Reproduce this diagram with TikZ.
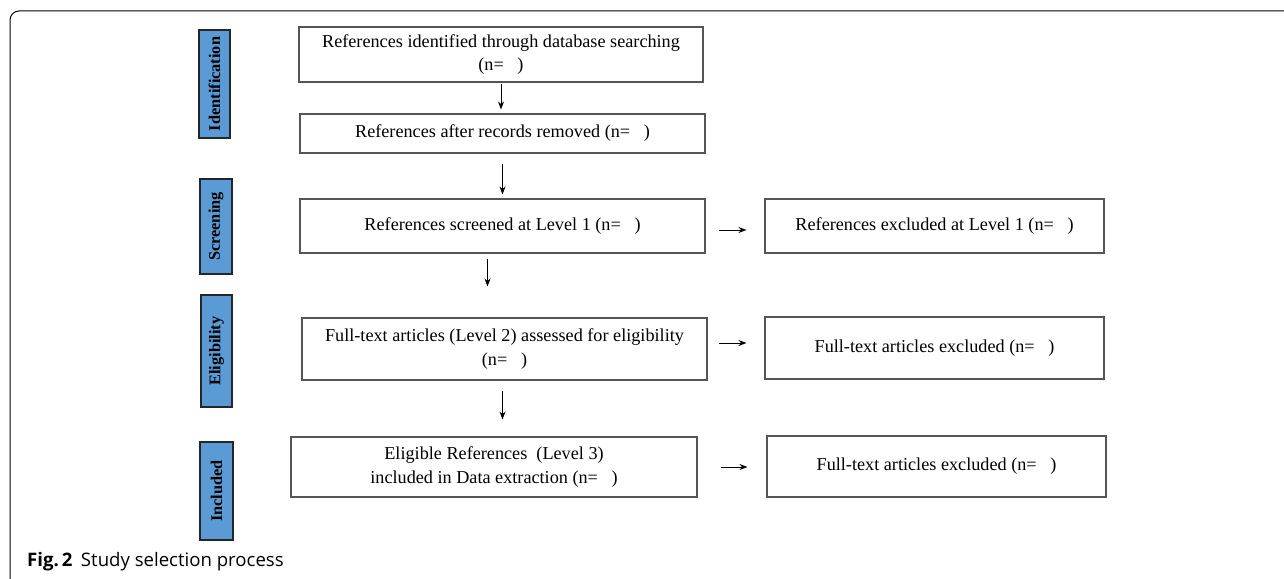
\documentclass[tikz,border=0pt]{standalone}
\usepackage{fontspec}
\setmainfont{Liberation Serif}
\newfontfamily\capfont{Open Sans}
\usetikzlibrary{arrows.meta}
\definecolor{stageblue}{RGB}{91,155,213}
\definecolor{boxgray}{RGB}{85,85,85}

\begin{document}
\begin{tikzpicture}[x=1pt,y=-1pt,
		box/.style={draw=boxgray, line width=1.1pt, align=center, inner sep=0pt, font=\fontsize{18.2}{23.5}\selectfont},
		stage/.style={draw=black!85, line width=1.1pt, fill=stageblue, inner sep=0pt, rotate=90, font=\fontsize{16.3}{18}\selectfont\bfseries},
		arr/.style={-{Stealth[length=8pt,width=6pt]}, line width=1pt}]
		
		\useasboundingbox (0,0) rectangle (1284,578);
		\draw[line width=1pt, rounded corners=9pt] (10,600) -- (10,11) -- (1300,11);
		
		% stages on the left
		\foreach \name/\x/\y/\w/\h/\txt in {ident/214.5/84/31/108/Identification, screen/216/226.5/32/95/Screening, elig/216.5/351/31/112/Eligibility, incl/216.5/491/33/98/Included}{
			\node (\name) at (\x,\y) [stage, minimum width=\h pt, minimum height=\w pt]{\txt};
		}
		
		% main column
		\node (found) at (501,54.5) [box, minimum width=404pt, minimum height=55pt]{References identified through database searching\\(n=\hspace{0.75em})};
		\node (kept) at (502.5,133.5) [box, minimum width=405pt, minimum height=39pt]{References after records removed (n=\hspace{0.75em})};
		\node (screened) at (502.5,226) [box, minimum width=405pt, minimum height=54pt]{References screened at Level 1 (n=\hspace{0.75em})};
		\node (fulltext) at (504.5,349) [box, minimum width=405pt, minimum height=62pt]{Full-text articles (Level 2) assessed for eligibility\\(n=\hspace{0.75em})};
		\node (included) at (494,467) [box, minimum width=406pt, minimum height=60pt]{Eligible References\ \ (Level 3)\\included in Data extraction (n=\hspace{0.75em})};
		
		% excluded column
		\node (dropA) at (934.5,226) [box, minimum width=339pt, minimum height=54pt]{References excluded at Level 1 (n=\hspace{0.75em})};
		\node (dropB) at (934.5,348) [box, minimum width=339pt, minimum height=62pt]{Full-text articles excluded (n=\hspace{0.75em})};
		\node (dropC) at (936.5,466.5) [box, minimum width=339pt, minimum height=61pt]{Full-text articles excluded (n=\hspace{0.75em})};
		
		\draw[arr, shorten <=1pt, shorten >=4pt] (found.south) -- (found.south |- kept.north);
		\draw[arr, shorten <=10pt, shorten >=4pt] (kept.south) -- (kept.south |- screened.north);
		\draw[arr, shorten <=5pt, shorten >=31pt] ([xshift=-15pt]screened.south) -- ([xshift=-15pt]screened.south |- fulltext.north);
		\draw[arr, shorten <=10pt, shorten >=17pt] ([xshift=-2pt]fulltext.south) -- ([xshift=-2pt]fulltext.south |- included.north);
		
		\draw[arr, shorten <=13pt, shorten >=18pt] ([yshift=-4pt]screened.east) -- ([yshift=-4pt]screened.east -| dropA.west);
		\draw[arr, shorten <=11pt, shorten >=18pt] ([yshift=6pt]fulltext.east) -- ([yshift=6pt]fulltext.east -| dropB.west);
		\draw[arr, shorten <=23pt, shorten >=19pt] (included.east) -- (included.east -| dropC.west);
		
		\node (cap) at (27,566) [anchor=base west, inner sep=0pt, font=\capfont\fontsize{18.6}{21}\selectfont]{\textbf{Fig.\,2}\hspace{0.45em}Study selection process};
	\end{tikzpicture}
\end{document}
